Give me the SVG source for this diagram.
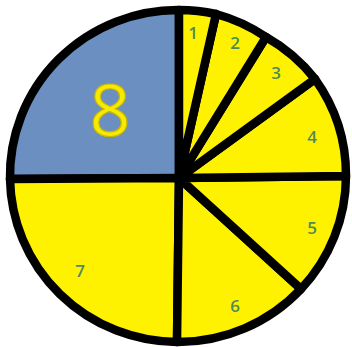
<svg xmlns="http://www.w3.org/2000/svg" width="352" height="347" viewBox="0 0 352 347">
  <style>
    .sec { stroke: #000; stroke-width: 8.5; stroke-linejoin: round; }
    .y { fill: #fff200; }
    .b { fill: #6b8fc0; }
    .lbl { font-family: "Open Sans", "Liberation Sans", sans-serif; font-size: 17px; font-weight: 600; fill: #4f8a5c; text-anchor: middle; }
    .big { font-family: "Open Sans", "Liberation Sans", sans-serif; font-size: 72px; fill: #f7ea00; stroke: #c9b800; stroke-width: 1.2; text-anchor: middle; }
  </style>
  <rect width="352" height="347" fill="#fff"/>
  <g id="node-8"><path class="sec b" d="M179,178 L10,179 A168,166 0 0 1 179,10 Z"/></g>
  <g id="node-7"><path class="sec y" d="M179,178 L177,342 A168,166 0 0 1 10,179 Z"/></g>
  <g id="node-6"><path class="sec y" d="M179,178 L301,289 A168,166 0 0 1 177,342 Z"/></g>
  <g id="node-5"><path class="sec y" d="M179,178 L346,176 A168,166 0 0 1 301,289 Z"/></g>
  <g id="node-4"><path class="sec y" d="M179,178 L315,79 A168,166 0 0 1 346,176 Z"/></g>
  <g id="node-3"><path class="sec y" d="M179,178 L266,37 A168,166 0 0 1 315,79 Z"/></g>
  <g id="node-2"><path class="sec y" d="M179,178 L216,14 A168,166 0 0 1 266,37 Z"/></g>
  <g id="node-1"><path class="sec y" d="M179,178 L179,10 A168,166 0 0 1 216,14 Z"/></g>
  <g id="connectors"></g>
  <g id="labels">
    <text class="big" x="110" y="136">8</text>
    <text class="lbl" x="193" y="39">1</text>
    <text class="lbl" x="235" y="49">2</text>
    <text class="lbl" x="276" y="79">3</text>
    <text class="lbl" x="312" y="143">4</text>
    <text class="lbl" x="312" y="234">5</text>
    <text class="lbl" x="235" y="312">6</text>
    <text class="lbl" x="80" y="277">7</text>
  </g>
</svg>
